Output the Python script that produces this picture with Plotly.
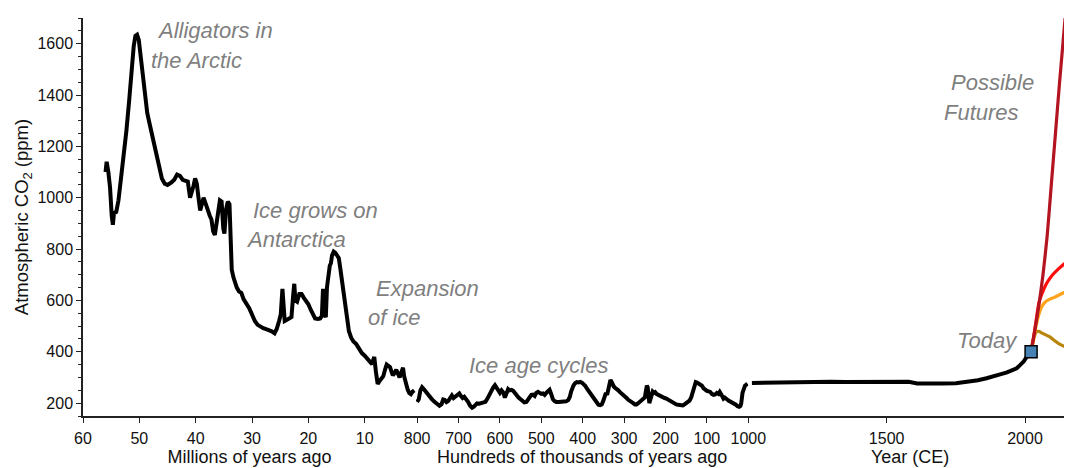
import plotly.graph_objects as go

# ---------------- data ----------------
# Segment 1: millions of years ago
myr_age = [56.0, 55.8, 55.5, 55.2, 54.9, 54.7, 54.5, 54.1, 53.7, 53.3, 52.8, 52.3, 51.8, 51.4,
           51.0, 50.7, 50.4, 50.1, 49.8, 49.4, 49.0, 48.6, 48.2, 47.6, 47.1, 46.5, 46.0, 45.5,
           45.0, 44.3, 43.8, 43.3, 42.8, 42.3, 41.8, 41.4, 41.0, 40.7, 40.4, 40.1, 39.8, 39.5,
           39.2, 38.9, 38.6, 38.2, 37.9, 37.5, 37.2, 36.9, 36.6, 36.3, 36.0, 35.7, 35.4, 35.1,
           34.9, 34.6, 34.3, 34.0, 33.8, 33.6, 33.3, 33.0, 32.7, 32.3, 31.9, 31.5, 31.0, 30.5,
           30.0, 29.5, 29.0, 28.5, 28.0, 27.5, 27.0, 26.5, 26.0, 25.6, 25.2, 24.9, 24.6, 24.4,
           24.2, 23.8, 23.3, 23.0, 22.7, 22.5, 22.3, 22.0, 21.6, 21.2, 20.8, 20.4, 20.0, 19.6,
           19.2, 18.8, 18.3, 17.9, 17.6, 17.4, 17.2, 16.9, 16.7, 16.5, 16.2, 16.0, 15.8, 15.5,
           15.2, 14.9, 14.6, 14.3, 14.0, 13.7, 13.4, 13.1, 12.8, 12.4, 12.0, 11.5, 11.0, 10.5,
           10.0, 9.5, 9.1, 8.7, 8.5, 8.3, 8.0, 7.7, 7.4, 7.0, 6.7, 6.4, 6.1, 5.8, 5.5, 5.2, 5.0,
           4.7, 4.4, 4.1, 3.8, 3.5, 3.2, 3.0, 2.7, 2.4, 2.1, 1.8, 1.5, 1.2]
myr_co2 = [1100, 1140, 1100, 1040, 930, 895, 940, 945, 990, 1060, 1160, 1260, 1380, 1490,
           1590, 1630, 1635, 1615, 1560, 1480, 1400, 1330, 1290, 1230, 1175, 1110, 1075, 1055,
           1050, 1060, 1070, 1090, 1085, 1070, 1068, 1063, 1000, 1020, 1045, 1075, 1055, 1000,
           950, 975, 1000, 975, 950, 930, 915, 870, 855, 890, 945, 990, 985, 880,
           860, 955, 985, 975, 880, 720, 690, 665, 650, 635, 630, 605, 590, 570,
           545, 520, 505, 497, 492, 488, 485, 480, 472, 490, 520, 545, 645, 580,
           520, 525, 530, 535, 620, 665, 600, 595, 625, 625, 610, 600, 585, 565,
           545, 530, 528, 530, 540, 645, 550, 535, 650, 700, 735, 745, 775, 790,
           785, 775, 765, 720, 670, 610, 555, 510, 480, 455, 440, 430, 410, 395,
           385, 372, 360, 352, 368, 380, 320, 275, 285, 300, 305, 330, 350, 345, 340, 320, 308,
           318, 330, 315, 300, 320, 338, 305, 275, 255, 240, 235, 245, 250]

# Segment 2: thousands of years ago (ice cores)
kyr_age = [800, 796, 792, 788, 784, 779, 774, 769, 764, 758, 752, 746, 741, 737, 733, 729, 725,
           720, 716, 712, 707, 702, 698, 694, 690, 686, 682, 677, 672, 667, 663, 659, 655, 650,
           645, 640, 635, 630, 626, 621, 616, 612, 608, 604, 600, 596, 592, 588, 584, 580, 576,
           572, 568, 564, 560, 555, 550, 546, 541, 536, 532, 528, 524, 520, 516, 512, 508, 504,
           500, 496, 492, 488, 484, 480, 476, 472, 468, 464, 458, 452, 446, 440, 435, 431, 428,
           425, 422, 418, 414, 410, 406, 402, 398, 394, 390, 386, 382, 378, 374, 370, 366, 362,
           358, 354, 350, 347, 344, 341, 338, 335, 333, 331, 328, 325, 322, 318, 314, 310, 306,
           302, 298, 294, 290, 286, 282, 278, 274, 270, 266, 262, 258, 254, 250, 247, 245, 243,
           241, 239, 237, 234, 231, 228, 225, 221, 218, 214, 210, 206, 202, 198, 194, 190, 186,
           182, 178, 174, 170, 166, 162, 158, 154, 150, 146, 142, 138, 134, 130, 127, 124, 120,
           116, 112, 108, 104, 100, 96, 92, 88, 84, 80, 76, 72, 69, 66, 63, 60, 57, 54, 51, 48,
           45, 42, 38, 34, 30, 26, 22, 19, 17, 14, 11, 8, 5, 2]
kyr_co2 = [205, 215, 250, 262, 255, 244, 232, 224, 215, 205, 195, 190, 196, 214, 212, 204, 208,
           225, 230, 220, 228, 236, 238, 228, 220, 225, 218, 205, 190, 182, 186, 196, 199, 198,
           200, 200, 205, 218, 232, 248, 262, 270, 258, 245, 240, 250, 242, 222, 238, 255, 250,
           252, 248, 238, 228, 222, 215, 208, 203, 205, 215, 225, 232, 233, 228, 240, 244, 240,
           236, 238, 232, 240, 247, 252, 235, 215, 208, 205, 205, 206, 204, 207, 212, 225, 245,
           262, 270, 278, 282, 281, 283, 280, 276, 268, 257, 248, 240, 230, 220, 210, 200, 194,
           192, 195, 210, 230, 240, 232, 260, 278, 290, 285, 270, 265, 260, 252, 250, 243, 238,
           230, 224, 220, 213, 210, 205, 200, 195, 195, 200, 205, 210, 213, 222, 250, 268, 262,
           225, 200, 212, 230, 245, 240, 243, 235, 232, 228, 225, 222, 220, 218, 214, 208, 203,
           200, 196, 195, 194, 192, 192, 191, 195, 200, 205, 210, 222, 250, 275, 282, 280, 276,
           272, 268, 258, 250, 248, 246, 244, 236, 232, 234, 240, 236, 244, 236, 225, 218, 222,
           215, 214, 210, 208, 205, 200, 197, 194, 188, 186, 189, 200, 240, 262, 268, 272, 276]

# Segment 3: calendar years (CE)
ce_year = [1013, 1050, 1100, 1150, 1200, 1250, 1300, 1350, 1400, 1450, 1500, 1550, 1580, 1610,
           1650, 1700, 1750, 1790, 1830, 1861, 1890, 1910, 1935, 1958, 1970, 1982, 1995, 2006,
           2015, 2022]
ce_co2 = [279, 280, 281, 282, 283, 283, 283, 282, 282, 282, 283, 285, 283, 277,
          276, 277, 278, 283, 289, 297, 304, 312, 320, 328, 336, 348, 362, 380,
          392, 400]

today_year = [2022]
today_co2 = [400]

# Possible futures
fut_year_vhigh = [2022, 2035, 2050, 2065, 2080, 2095, 2110, 2125, 2145, 2170]
fut_co2_vhigh = [400, 480, 580, 700, 850, 1050, 1250, 1450, 1700, 2030]
fut_year_high = [2022, 2030, 2040, 2050, 2061, 2075, 2086, 2100, 2122, 2145, 2170]
fut_co2_high = [400, 450, 520, 590, 625, 660, 680, 700, 724, 745, 763]
fut_year_mid = [2022, 2030, 2040, 2050, 2060, 2073, 2090, 2104, 2130, 2150, 2170]
fut_co2_mid = [400, 440, 500, 545, 575, 594, 605, 611, 625, 635, 646]
fut_year_low = [2022, 2028, 2035, 2042, 2050, 2060, 2075, 2090, 2105, 2122, 2145, 2170]
fut_co2_low = [400, 440, 465, 478, 480, 474, 466, 458, 445, 432, 420, 412]

y_ticks = [200, 400, 600, 800, 1000, 1200, 1400, 1600]
myr_ticks = [60, 50, 40, 30, 20, 10]
kyr_ticks = [800, 700, 600, 500, 400, 300, 200, 100]
ce_ticks = [1000, 1500, 2000]

# ---------------- figure ----------------
# the page body has an 8px margin, so the figure is drawn 8px in from the top-left
OFF = 8
PAGE_W, PAGE_H = 1072, 468
W, H = PAGE_W - OFF, PAGE_H - OFF
AX_X, AX_TOP, AX_BOT = 83, 18, 416          # page pixels of the plot frame
ML, MR, MT, MB = AX_X - OFF, 0, AX_TOP - OFF, PAGE_H - AX_BOT
PW, PH = W - ML - MR, H - MT - MB
d1 = (416 - AX_X) / PW
d2 = (748.3 - AX_X) / PW

FONT = "Liberation Sans, Arial, Helvetica, sans-serif"
AXC = "#222222"
GRAY = "#7f7f7f"

fig = go.Figure()
fig.add_trace(go.Scatter(x=myr_age, y=myr_co2, xaxis="x", yaxis="y", mode="lines",
                         line=dict(color="black", width=4), showlegend=False))
fig.add_trace(go.Scatter(x=kyr_age, y=kyr_co2, xaxis="x2", yaxis="y", mode="lines",
                         line=dict(color="black", width=4), showlegend=False))
fig.add_trace(go.Scatter(x=ce_year, y=ce_co2, xaxis="x3", yaxis="y", mode="lines",
                         line=dict(color="black", width=4), showlegend=False))
for xs, ys, col in [(fut_year_low, fut_co2_low, "#b8860b"),
                    (fut_year_mid, fut_co2_mid, "#ffa41c"),
                    (fut_year_high, fut_co2_high, "#ff0d0d"),
                    (fut_year_vhigh, fut_co2_vhigh, "#b3141f")]:
    fig.add_trace(go.Scatter(x=xs, y=ys, xaxis="x3", yaxis="y", mode="lines",
                             line=dict(color=col, width=3.2, shape="spline", smoothing=0.6),
                             showlegend=False))
fig.add_trace(go.Scatter(x=today_year, y=today_co2, xaxis="x3", yaxis="y", mode="markers",
                         marker=dict(symbol="square", size=12, color="#4682b4",
                                     line=dict(color="black", width=1.5)),
                         showlegend=False, cliponaxis=False))

xcommon = dict(showline=True, linecolor=AXC, linewidth=1.5, ticks="outside", ticklen=5,
               tickcolor=AXC, tickwidth=1.2, showgrid=False, zeroline=False, anchor="y",
               tickfont=dict(size=16, color="#111111"), ticklabelstandoff=2,
               automargin=False, tickmode="array")

fig.update_layout(
    width=W, height=H,
    margin=dict(l=ML, r=MR, t=MT, b=MB, pad=0),
    paper_bgcolor="white", plot_bgcolor="white",
    font=dict(family=FONT, color="#111111"),
    showlegend=False,
    xaxis=dict(domain=[0, d1], range=[60, 60 - (416 - AX_X) / 5.634], tickvals=myr_ticks,
               ticktext=[str(v) for v in myr_ticks],
               title=dict(text="Millions of years ago", font=dict(size=18), standoff=2),
               **xcommon),
    xaxis2=dict(domain=[d1, d2], range=[(748.3 - 416) / 0.414, 0], tickvals=kyr_ticks,
                ticktext=[str(v) for v in kyr_ticks],
                title=dict(text="Hundreds of thousands of years ago", font=dict(size=18), standoff=2),
                **xcommon),
    xaxis3=dict(domain=[d2, 1], range=[1000, 1000 + (PAGE_W - 748.3) / 0.2767], tickvals=ce_ticks,
                ticktext=[str(v) for v in ce_ticks],
                title=dict(text="Year (CE)", font=dict(size=18), standoff=2),
                **xcommon),
    yaxis=dict(domain=[0, 1], range=[150, 1700], anchor="x", showline=True, linecolor=AXC,
               linewidth=1.5, ticks="outside", ticklen=5, tickcolor=AXC, tickwidth=1.2,
               tickmode="array", tickvals=y_ticks, ticktext=[str(v) for v in y_ticks],
               tickfont=dict(size=16, color="#111111"), showgrid=False, zeroline=False,
               minor=dict(ticks="outside", ticklen=3, dtick=50, tick0=0, tickcolor=AXC,
                          tickwidth=1, showgrid=False),
               title=dict(text="Atmospheric CO<sub>2</sub> (ppm)", font=dict(size=18.5), standoff=4),
               automargin=False),
)


def paper(px, py):
    # page pixel -> paper fraction
    return (px - AX_X) / PW, (AX_BOT - py) / PH


labels = [
    ("Alligators in", 155, 30, "left"),
    ("the Arctic", 149, 60, "left"),
    ("Ice grows on", 251, 210, "left"),
    ("Antarctica", 244, 239, "left"),
    ("Expansion", 374, 288, "left"),
    ("of ice", 366, 317, "left"),
    ("Ice age cycles", 467, 365, "left"),
    ("Possible", 949, 82, "left"),
    ("Futures", 942, 112, "left"),
    ("Today", 1020, 340, "right"),
]
for txt, px, py, anc in labels:
    xp, yp = paper(px, py)
    fig.add_annotation(text="<i>" + txt + "</i>", x=xp, y=yp, xref="paper", yref="paper",
                       xanchor=anc, yanchor="middle", showarrow=False,
                       font=dict(size=22, color=GRAY, family=FONT))

fig.write_html("out.html")
